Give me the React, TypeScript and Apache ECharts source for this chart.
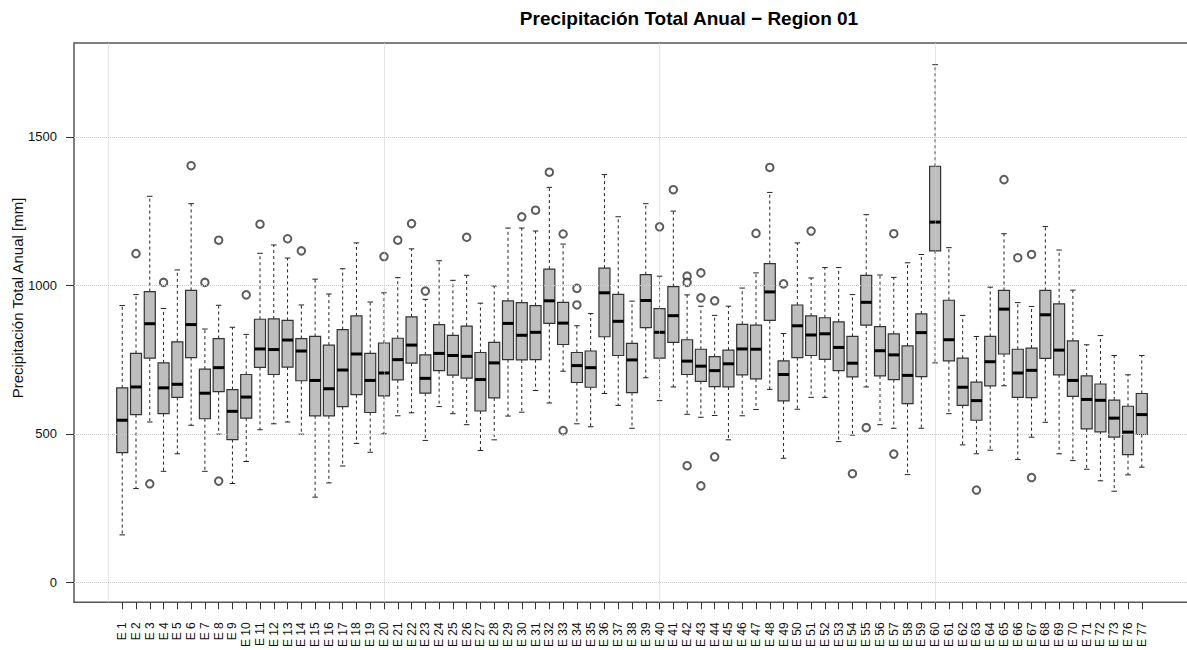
import React, { useEffect, useRef } from "react";
import * as echarts from "echarts";

const stations = [
  "E 1","E 2","E 3","E 4","E 5","E 6","E 7","E 8","E 9","E 10",
  "E 11","E 12","E 13","E 14","E 15","E 16","E 17","E 18","E 19","E 20",
  "E 21","E 22","E 23","E 24","E 25","E 26","E 27","E 28","E 29","E 30",
  "E 31","E 32","E 33","E 34","E 35","E 36","E 37","E 38","E 39","E 40",
  "E 41","E 42","E 43","E 44","E 45","E 46","E 47","E 48","E 49","E 50",
  "E 51","E 52","E 53","E 54","E 55","E 56","E 57","E 58","E 59","E 60",
  "E 61","E 62","E 63","E 64","E 65","E 66","E 67","E 68","E 69","E 70",
  "E 71","E 72","E 73","E 76","E 77",
];

const lowerWhisker = [
  160,316,540,374,433,529,374,499,333,407,
  514,534,540,499,287,335,392,468,438,500,
  561,571,478,592,568,531,444,480,560,573,
  646,604,711,534,524,636,596,519,689,612,
  658,566,556,562,480,561,582,650,418,583,
  623,623,474,496,658,531,519,363,519,739,
  568,463,433,445,662,414,489,539,433,410,
  381,342,307,362,388,
];
const lowerQuartile = [
  437,565,755,568,623,757,551,642,481,553,
  724,700,725,679,561,561,592,632,572,628,
  682,738,637,713,698,688,577,621,750,749,
  750,872,801,673,657,827,764,639,858,755,
  808,700,677,659,658,699,685,882,611,757,
  764,751,713,692,866,695,683,602,693,1116,
  746,596,546,662,769,623,622,754,699,626,
  517,507,489,430,498,
];
const medians = [
  546,658,871,655,667,868,637,723,576,624,
  786,784,816,779,680,652,715,769,680,705,
  750,799,687,771,764,761,683,739,872,832,
  842,948,873,730,723,975,879,749,949,842,
  898,745,728,713,736,786,785,978,700,864,
  833,837,791,738,943,780,766,697,841,1213,
  817,657,612,743,920,705,714,901,782,680,
  616,613,553,506,565,
];
const upperQuartile = [
  655,771,979,739,810,983,718,821,649,700,
  886,887,882,821,828,799,851,897,771,806,
  822,894,766,868,832,863,774,808,948,942,
  932,1055,943,774,779,1058,970,805,1036,922,
  996,817,785,760,782,869,866,1073,746,934,
  897,891,877,828,1034,861,837,796,904,1401,
  950,755,674,828,983,785,789,983,938,813,
  695,668,614,593,636,
];
const upperWhisker = [
  932,969,1300,922,1052,1275,853,933,859,835,
  1108,1136,1092,934,1021,971,1056,1143,944,975,
  1026,1123,953,1083,1017,1034,940,998,1193,1193,
  1183,1330,1139,864,905,1373,1231,947,1275,1031,
  1250,968,930,899,930,991,1042,1313,838,1143,
  1025,1060,1060,969,1238,1035,1027,1076,1104,1743,
  1127,899,828,994,1174,942,929,1198,1119,984,
  800,831,764,699,764,
];

const outliers: [string, number][] = [
  ["E 2",1107],["E 3",332],["E 4",1010],["E 6",1403],["E 7",1010],
  ["E 8",1152],["E 8",341],["E 10",968],["E 11",1206],["E 13",1157],
  ["E 14",1116],["E 20",1097],["E 21",1152],["E 22",1208],["E 23",981],
  ["E 26",1162],["E 30",1231],["E 31",1253],["E 32",1381],["E 33",1173],
  ["E 33",511],["E 34",990],["E 34",934],["E 40",1197],["E 41",1322],
  ["E 42",1031],["E 42",1010],["E 42",393],["E 43",1042],["E 43",958],
  ["E 43",325],["E 44",948],["E 44",423],["E 47",1175],["E 48",1397],
  ["E 49",1005],["E 51",1183],["E 54",366],["E 55",521],["E 57",1174],
  ["E 57",432],["E 63",311],["E 65",1356],["E 66",1093],["E 67",1104],
  ["E 67",353],
];

const yTicks = [0, 500, 1000, 1500];
const leftPad = ["p-2", "p-1", "p0"];
const rightPad = ["p76", "p77", "p78"];

export default function App() {
  const ref = useRef<HTMLDivElement>(null);
  useEffect(() => {
    document.body.style.margin = "0";
    if (!ref.current) return;
    const chart = echarts.init(ref.current, null, { renderer: "svg" });
    const categories = [...leftPad, ...stations, ...rightPad];
    const isStation = (i: number) => i >= leftPad.length && i < leftPad.length + stations.length;
    const off = leftPad.length;
    const boxData = stations.map((_, i) => [
      i + off, lowerWhisker[i], lowerQuartile[i], medians[i], upperQuartile[i], upperWhisker[i],
    ]);
    const outData = outliers.map(([s, v]) => [stations.indexOf(s) + off, v]);
    const font = '"Liberation Sans", Arial, sans-serif';

    chart.setOption({
      animation: false,
      grid: {
        left: 74, top: 43, width: 1116, height: 560,
        show: true, borderColor: "#555", borderWidth: 1.5, backgroundColor: "transparent",
      },
      xAxis: {
        type: "category",
        data: categories,
        boundaryGap: true,
        axisLine: { show: false, onZero: false },
        axisTick: {
          show: true, alignWithLabel: true, length: 7,
          interval: (i: number) => isStation(i),
          lineStyle: { color: "#333", width: 1 },
        },
        axisLabel: {
          interval: (i: number) => isStation(i),
          rotate: 90, margin: 20, fontSize: 12, color: "#111", fontFamily: font,
          formatter: (v: string) => (v.startsWith("E") ? v : ""),
        },
        splitLine: { show: false },
      },
      yAxis: {
        type: "value",
        min: -67, max: 1816,
        axisLine: { show: false },
        axisTick: { show: true, length: 8, customValues: yTicks, lineStyle: { color: "#333", width: 1 } },
        axisLabel: {
          customValues: yTicks, margin: 17, fontSize: 13, color: "#111", fontFamily: font,
          formatter: (v: number) => String(v),
        },
        splitLine: { show: false },
      },
      series: [
        {
          type: "line",
          data: [],
          z: 1,
          silent: true,
          markLine: {
            silent: true,
            symbol: ["none", "none"],
            label: { show: false },
            emphasis: { disabled: true },
            lineStyle: { type: "dotted", color: "#cccccc", width: 1 },
            data: [
              ...yTicks.map((v) => ({ yAxis: v })),
              { xAxis: "p0" }, { xAxis: "E 20" }, { xAxis: "E 40" }, { xAxis: "E 60" },
            ],
          },
        },
        {
          type: "custom",
          z: 3,
          data: boxData,
          encode: { x: 0, y: [1, 2, 3, 4, 5] },
          renderItem: (params: any, api: any) => {
            const x = api.value(0);
            const pLo = api.coord([x, api.value(1)]);
            const pQ1 = api.coord([x, api.value(2)]);
            const pMed = api.coord([x, api.value(3)]);
            const pQ3 = api.coord([x, api.value(4)]);
            const pHi = api.coord([x, api.value(5)]);
            const bw = api.size([1, 0])[0] * 0.8;
            const h = bw / 2;
            const cx = pLo[0];
            const dash = { stroke: "#222", lineWidth: 1, lineDash: [3, 3] };
            const solid = { stroke: "#222", lineWidth: 1 };
            return {
              type: "group",
              children: [
                { type: "line", shape: { x1: cx, y1: pQ3[1], x2: cx, y2: pHi[1] }, style: dash },
                { type: "line", shape: { x1: cx, y1: pQ1[1], x2: cx, y2: pLo[1] }, style: dash },
                { type: "line", shape: { x1: cx - h / 2, y1: pHi[1], x2: cx + h / 2, y2: pHi[1] }, style: solid },
                { type: "line", shape: { x1: cx - h / 2, y1: pLo[1], x2: cx + h / 2, y2: pLo[1] }, style: solid },
                {
                  type: "rect",
                  shape: { x: cx - h, y: pQ3[1], width: bw, height: pQ1[1] - pQ3[1] },
                  style: { fill: "#bebebe", stroke: "#333", lineWidth: 1.2 },
                },
                { type: "line", shape: { x1: cx - h, y1: pMed[1], x2: cx + h, y2: pMed[1] }, style: { stroke: "#000", lineWidth: 3 } },
              ],
            };
          },
        },
        {
          type: "scatter",
          z: 4,
          data: outData,
          symbol: "emptyCircle",
          symbolSize: 7.5,
          itemStyle: { color: "#333", borderWidth: 1 },
          silent: true,
        },
      ],
      graphic: [
        {
          type: "text", x: 689, y: 18,
          style: {
            text: "Precipitación Total Anual − Region 01",
            font: 'bold 19px "Liberation Sans", Arial, sans-serif',
            align: "center", verticalAlign: "middle", fill: "#000",
          },
        },
        {
          type: "text", x: 17, y: 298, rotation: Math.PI / 2,
          style: {
            text: "Precipitación Total Anual [mm]",
            font: '15px "Liberation Sans", Arial, sans-serif',
            align: "center", verticalAlign: "middle", fill: "#111",
          },
        },
      ],
    });
    return () => chart.dispose();
  }, []);
  return (
    <div style={{ width: 1187, height: 650, overflow: "hidden", position: "relative" }}>
      <div ref={ref} style={{ width: 1200, height: 650 }} />
    </div>
  );
}
